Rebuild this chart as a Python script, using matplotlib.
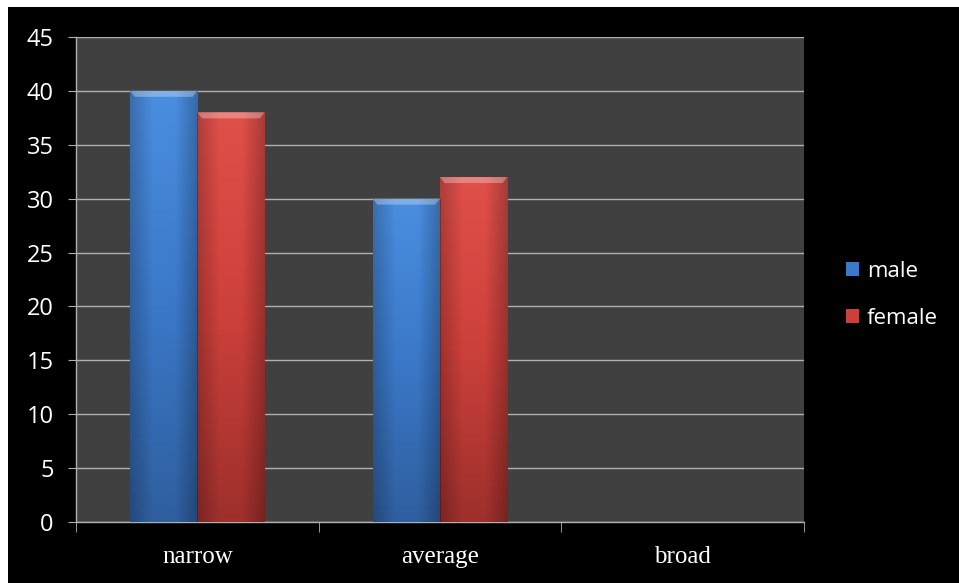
import numpy as np
import matplotlib
matplotlib.use("Agg")
import matplotlib.pyplot as plt
from matplotlib.patches import Rectangle, Polygon
from matplotlib.colors import LinearSegmentedColormap

categories = ["narrow", "average", "broad"]
male = [40, 30, 0]
female = [38, 32, 0]
series_names = ["male", "female"]
y_ticks = [0, 5, 10, 15, 20, 25, 30, 35, 40, 45]

W, H = 959, 583
fig = plt.figure(figsize=(W / 100, H / 100), dpi=100, facecolor="black")
ax = fig.add_axes([76 / W, (H - 522) / H, (804 - 76) / W, (522 - 37) / H])
ax.set_facecolor("#404040")

x = np.arange(len(categories))
bw = 0.277
colors = {"male": ("#4a8ee0", "#3b78c8", "#2f5f9f"),
          "female": ("#e0504a", "#cc403b", "#9e302c")}

def draw_bar(x0, h, cols):
    if h <= 0:
        return
    light, mid, dark = cols
    rect = Rectangle((x0, 0), bw, h, facecolor=mid, edgecolor="none", zorder=3)
    ax.add_patch(rect)
    cmap = LinearSegmentedColormap.from_list("g", [dark, mid, light])
    grad = np.linspace(0, 1, 64).reshape(-1, 1)
    im = ax.imshow(grad, cmap=cmap, origin="lower", aspect="auto",
                   extent=(x0, x0 + bw, 0, h), zorder=3.1, interpolation="bicubic")
    im.set_clip_path(rect)
    side = LinearSegmentedColormap.from_list("s", [(0, 0, 0, 0.22), (0, 0, 0, 0), (0, 0, 0, 0), (0, 0, 0, 0.25)])
    sg = np.linspace(0, 1, 64).reshape(1, -1)
    im2 = ax.imshow(sg, cmap=side, aspect="auto", extent=(x0, x0 + bw, 0, h),
                    zorder=3.2, interpolation="bicubic")
    im2.set_clip_path(rect)
    bx = bw * 0.07
    by = 0.55
    bevel = Polygon([(x0, h), (x0 + bw, h), (x0 + bw - bx, h - by), (x0 + bx, h - by)],
                    closed=True, facecolor="white", alpha=0.3, edgecolor="none", zorder=3.3)
    ax.add_patch(bevel)

for i in range(len(categories)):
    draw_bar(x[i] - bw, male[i], colors["male"])
    draw_bar(x[i], female[i], colors["female"])

ax.set_xlim(-0.5, len(categories) - 0.5)
ax.set_ylim(0, 45)
ax.set_yticks(y_ticks)
ax.set_yticklabels([str(t) for t in y_ticks], fontfamily="Open Sans", fontsize=17, color="white")
ax.yaxis.grid(True, color="#b0b0b0", lw=1)
ax.set_axisbelow(True)
ax.set_xticks(x)
ax.set_xticklabels(categories, fontfamily="Liberation Serif", fontsize=18, color="white")
ax.tick_params(axis="x", length=0, pad=17)
ax.set_xticks(np.arange(-0.5, len(categories)), minor=True)
ax.tick_params(axis="x", which="minor", length=7, color="#b0b0b0", direction="out")
ax.tick_params(axis="y", length=6, color="#b0b0b0", direction="out", pad=10)
for s in ["top", "right"]:
    ax.spines[s].set_visible(False)
for s in ["left", "bottom"]:
    ax.spines[s].set_color("#b0b0b0")
    ax.spines[s].set_linewidth(1)

handles = [Rectangle((0, 0), 1, 1, facecolor=colors["male"][1]),
           Rectangle((0, 0), 1, 1, facecolor=colors["female"][1])]
leg = fig.legend(handles, series_names, loc="center left",
                 bbox_to_anchor=(826 / W, 1 - 295 / H), frameon=False,
                 prop={"family": "Open Sans", "size": 16}, labelcolor="white",
                 handlelength=0.6, handleheight=0.6, handletextpad=0.35,
                 labelspacing=1.15)

fig.patches.append(Rectangle((0, 1 - 7 / H), 1, 7 / H, transform=fig.transFigure,
                             facecolor="white", edgecolor="none", zorder=10))
fig.patches.append(Rectangle((0, 0), 8 / W, 1, transform=fig.transFigure,
                             facecolor="white", edgecolor="none", zorder=10))

fig.savefig("out.png", dpi=100, facecolor="black")
